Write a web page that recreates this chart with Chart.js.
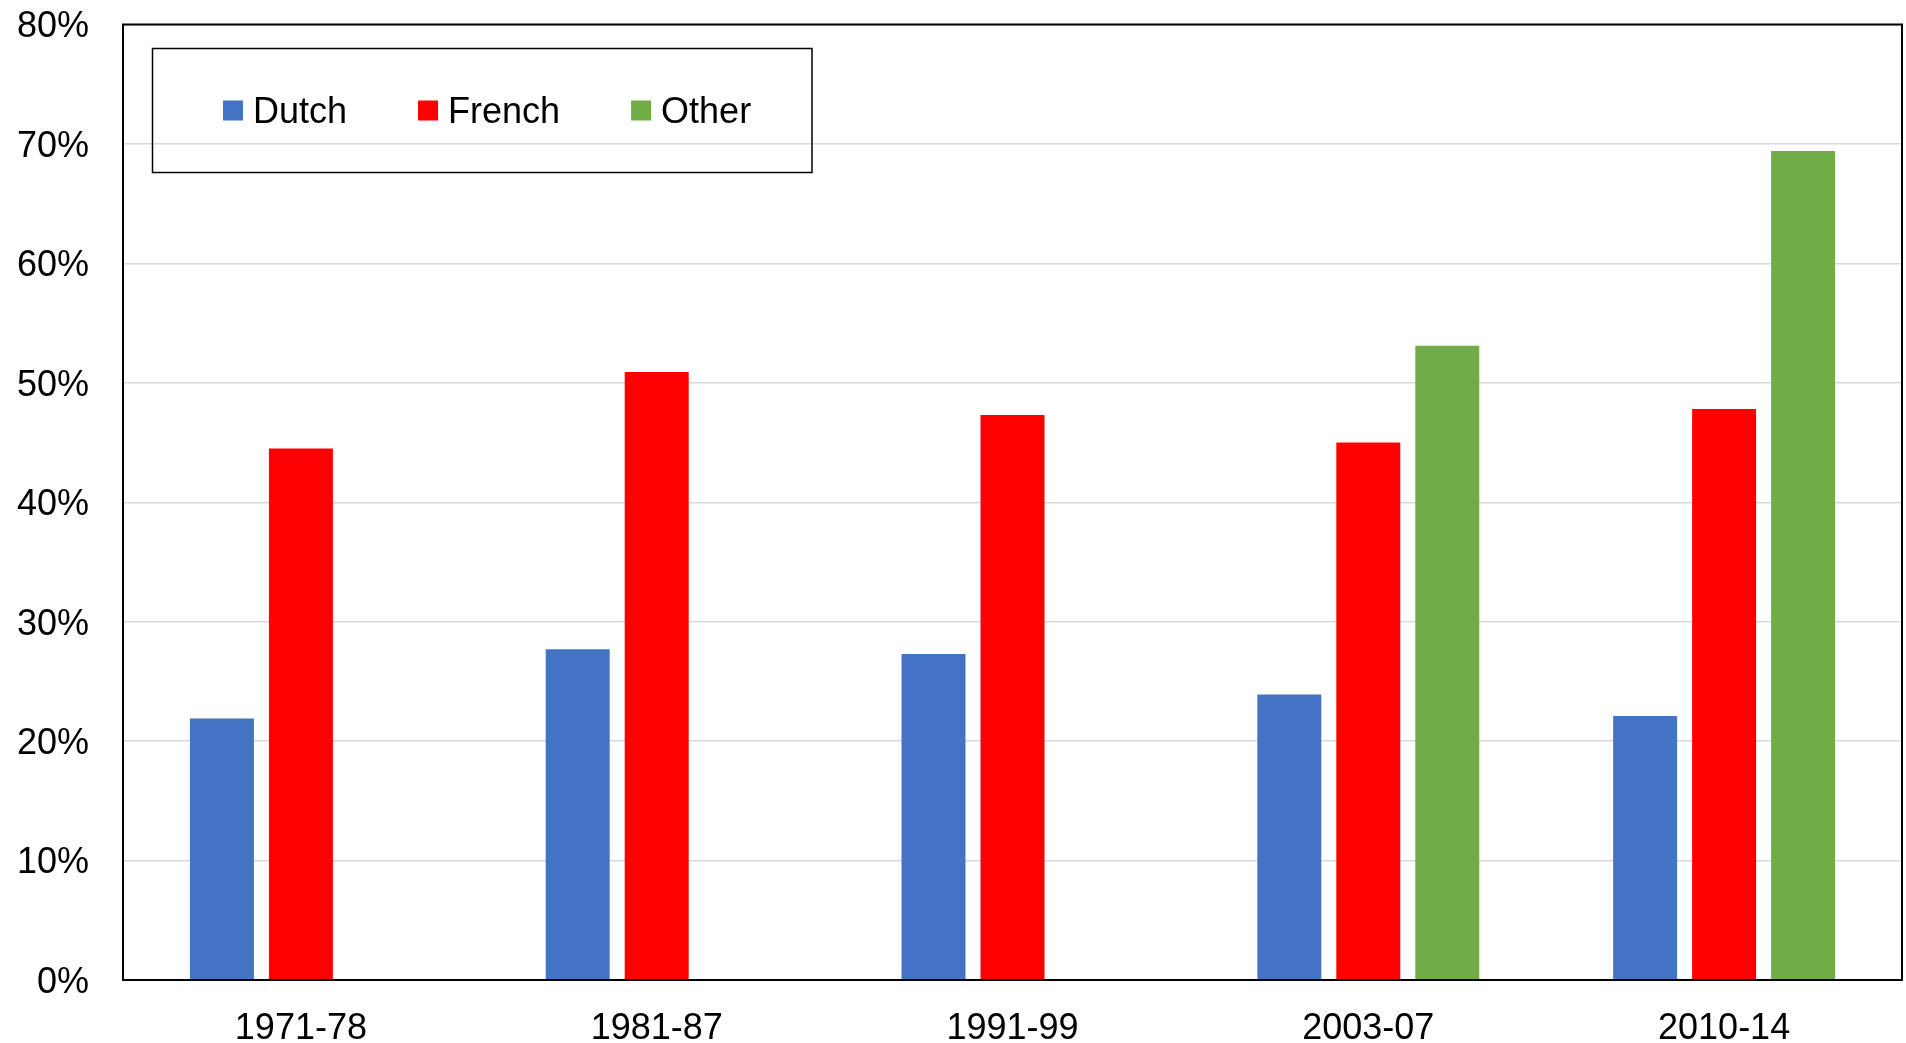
<!DOCTYPE html>
<html>
<head>
<meta charset="utf-8">
<title>Language share by period</title>
<script src="https://cdn.jsdelivr.net/npm/chart.js@4/dist/chart.umd.min.js"></script>
<style>
  html, body { margin: 0; padding: 0; background: #fff; }
  #wrap { width: 1906px; height: 1043px; }
</style>
</head>
<body>
<div id="wrap"><canvas id="chart" width="1906" height="1043"></canvas></div>
<script>
const periods = ['1971-78', '1981-87', '1991-99', '2003-07', '2010-14'];
const dutch = [21.9, 27.7, 27.3, 23.9, 22.1];
const french = [44.5, 50.9, 47.3, 45.0, 47.8];
const other = [null, null, null, 53.1, 69.4];
const yTicks = [0, 10, 20, 30, 40, 50, 60, 70, 80];

const FONT = '"Liberation Sans", Arial, sans-serif';

// legend in a framed box + frame round the plot area
const boxedLegend = {
  id: 'boxedLegend',
  afterDatasetsDraw(chart) {
    const ctx = chart.ctx;
    const a = chart.chartArea;
    ctx.save();
    ctx.strokeStyle = '#000';
    ctx.lineWidth = 2;
    ctx.strokeRect(a.left, a.top, a.right - a.left, a.bottom - a.top);

    ctx.lineWidth = 1.5;
    ctx.strokeRect(152.5, 48.5, 659.5, 124);

    ctx.font = '36px ' + FONT;
    ctx.textBaseline = 'middle';
    ctx.textAlign = 'left';
    let x = 223;
    const cy = 110.5;
    chart.data.datasets.forEach(ds => {
      ctx.fillStyle = ds.backgroundColor;
      ctx.fillRect(x, cy - 10, 20, 20);
      ctx.fillStyle = '#000';
      ctx.fillText(ds.label, x + 30, cy + 2.5);
      x += 30 + ctx.measureText(ds.label).width + 71;
    });
    ctx.restore();
  }
};

new Chart(document.getElementById('chart'), {
  type: 'bar',
  data: {
    labels: periods,
    datasets: [
      { label: 'Dutch', data: dutch, backgroundColor: '#4472C4' },
      { label: 'French', data: french, backgroundColor: '#FF0000' },
      { label: 'Other', data: other, backgroundColor: '#70AD47' }
    ]
  },
  options: {
    responsive: false,
    animation: false,
    layout: { padding: { top: 24.5, right: 4, left: 0, bottom: 0 } },
    datasets: {
      bar: { categoryPercentage: 0.666, barPercentage: 0.81 }
    },
    plugins: {
      legend: { display: false },
      tooltip: { enabled: false }
    },
    scales: {
      x: {
        grid: { display: false, drawTicks: false },
        border: { color: '#000', width: 2 },
        ticks: { color: '#000', font: { family: FONT, size: 36 }, padding: 27, maxRotation: 0 },
        afterFit(scale) {
          scale.height = 63;
          scale.paddingLeft = 0;
          scale.paddingRight = 0;
        }
      },
      y: {
        min: 0,
        max: 80,
        afterBuildTicks(scale) { scale.ticks = yTicks.map(v => ({ value: v })); },
        grid: { color: '#d9d9d9', lineWidth: 1.5, drawTicks: false },
        border: { color: '#000', width: 2 },
        ticks: {
          color: '#000',
          font: { family: FONT, size: 36 },
          padding: 34,
          labelOffset: 3,
          callback: v => v + '%'
        },
        afterFit(scale) {
          scale.width = 123;
          scale.paddingTop = 0;
          scale.paddingBottom = 0;
        }
      }
    }
  },
  plugins: [boxedLegend]
});
</script>
</body>
</html>
